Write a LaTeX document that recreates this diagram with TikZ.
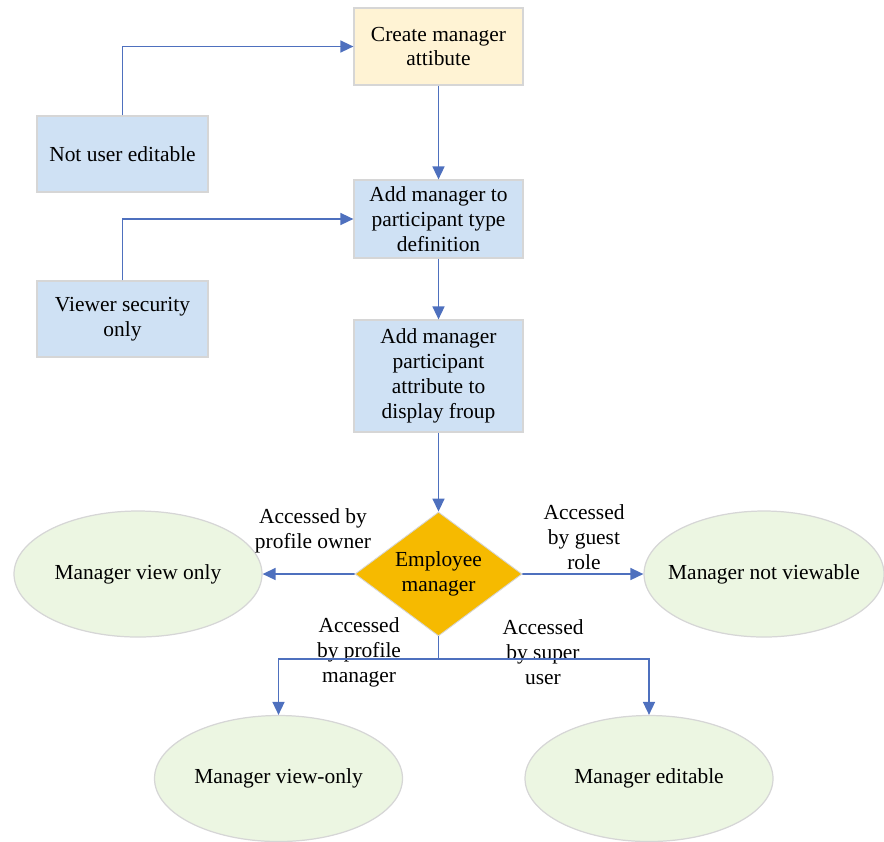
\documentclass[tikz,border=0pt]{standalone}
\usepackage{fontspec}
\setmainfont{Liberation Serif}
\usepackage{xcolor}
\usetikzlibrary{shapes,arrows.meta,positioning,calc}

\definecolor{linkblue}{RGB}{78,112,190}
\definecolor{boxblue}{RGB}{207,225,244}
\definecolor{boxcream}{RGB}{255,243,212}
\definecolor{ovalgreen}{RGB}{236,246,226}
\definecolor{decgold}{RGB}{246,186,0}
\definecolor{edgegray}{RGB}{214,214,214}

\tikzset{
  box/.style={rectangle, draw=edgegray, line width=0.7pt, fill=boxblue, align=center,
    minimum width=3.38cm, minimum height=1.54cm, inner sep=2pt},
  oval/.style={ellipse, draw=edgegray, line width=0.7pt, fill=ovalgreen, align=center,
    minimum width=4.96cm, minimum height=2.52cm, inner sep=0pt, inner xsep=-6mm},
  link/.style={draw=linkblue, line width=0.9pt, -{Triangle[length=2.6mm,width=2.4mm]}},
  lbl/.style={align=center}
}

\begin{document}
\begin{tikzpicture}[node distance=2cm, auto, font=\fontsize{12.2}{14.2}\selectfont]
    \useasboundingbox (0,0) rectangle (17.68,-16.82);

    \node[box, fill=boxcream] (create) at (8.77,-0.93) {Create manager\\attibute};
    \node[box, below of=create, node distance=3.45cm, minimum height=1.56cm] (addtype) {Add manager to\\participant type\\definition};
    \node[box, below of=addtype, node distance=3.14cm, minimum height=2.24cm] (addgroup) {Add manager\\participant\\attribute to\\display froup};
    \node[diamond, draw=edgegray, line width=0.5pt, fill=decgold, align=center, inner sep=0pt, aspect=1.35,
          minimum width=3.34cm, minimum height=2.48cm, below of=addgroup, node distance=3.96cm] (empmgr) {Employee\\manager};

    \node[box, minimum width=3.42cm, minimum height=1.52cm] (noedit) at (2.45,-3.08) {Not user editable};
    \node[box, minimum width=3.42cm, minimum height=1.52cm] (viewsec) at (2.45,-6.38) {Viewer security\\only};

    \node[oval] (viewonly) at (2.76,-11.48) {Manager view only};
    \node[oval, minimum width=4.8cm] (notview) at (15.28,-11.48) {Manager not viewable};
    \node[oval] (mgrview) at (5.57,-15.57) {Manager view-only};
    \node[oval] (mgredit) at (12.98,-15.57) {Manager editable};

    \coordinate (fork) at (8.77,-13.18);

    \node[lbl] (byowner) at (6.26,-10.62) {Accessed by\\profile owner};
    \node[lbl] (byguest) at (11.68,-10.74) {Accessed\\by guest\\role};
    \node[lbl] (bymanager) at (7.18,-13.04) {Accessed\\by profile\\manager};
    \node[lbl] (bysuper) at (10.86,-13.04) {Accessed\\by super\\user};

    \draw[link] (noedit.north) |- (create.west);
    \draw[link] (create) -- (addtype);
    \draw[link] (viewsec.north) |- (addtype.west);
    \draw[link] (addtype) -- (addgroup);
    \draw[link] (addgroup) -- (empmgr);
    \draw[link] (empmgr.west) -- (viewonly.east);
    \draw[link] (empmgr.east) -- (notview.west);
    \draw[draw=linkblue, line width=0.9pt] (empmgr.south) -- (fork);
    \draw[link] (fork) -| (mgrview.north);
    \draw[link] (fork) -| (mgredit.north);
\end{tikzpicture}
\end{document}
